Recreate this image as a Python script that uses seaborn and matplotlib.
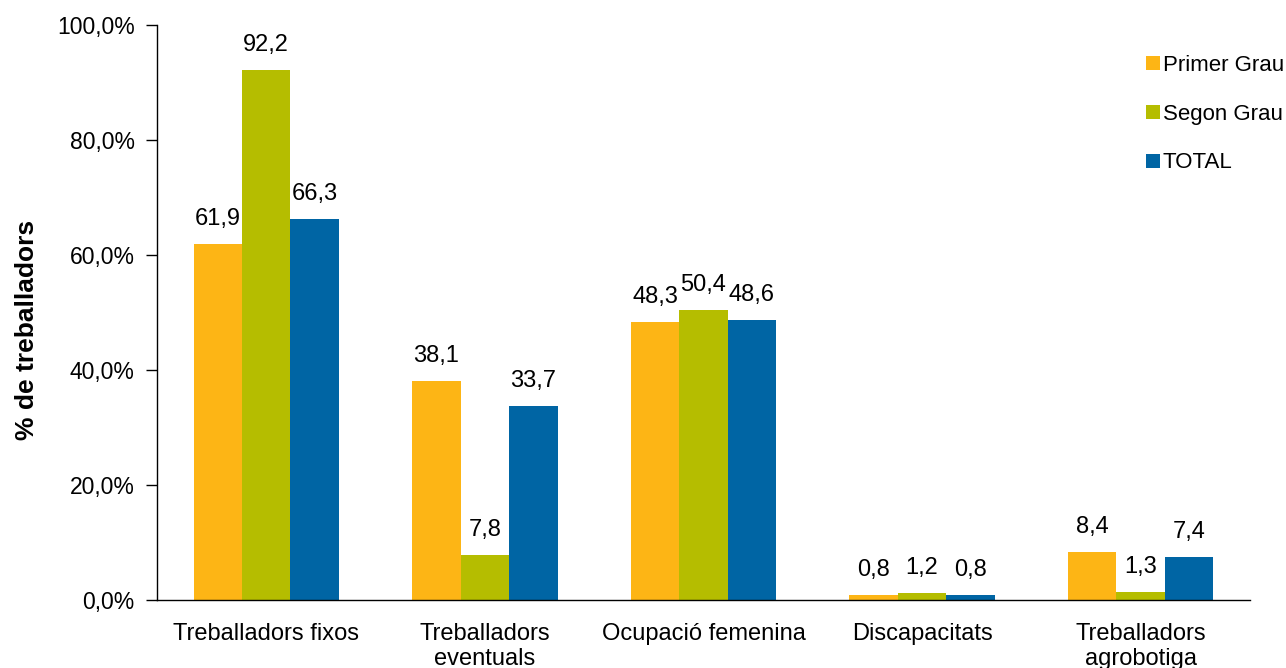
import pandas as pd
import seaborn as sns
import matplotlib.pyplot as plt
from matplotlib.ticker import FuncFormatter, FixedLocator

categories = ['Treballadors fixos', 'Treballadors\neventuals', 'Ocupació femenina',
              'Discapacitats', 'Treballadors\nagrobotiga']
series = ['Primer Grau', 'Segon Grau', 'TOTAL']
primer_grau = [61.9, 38.1, 48.3, 0.8, 8.4]
segon_grau = [92.2, 7.8, 50.4, 1.2, 1.3]
total = [66.3, 33.7, 48.6, 0.8, 7.4]
colors = ['#FDB515', '#B5BD00', '#0065A4']

df = pd.DataFrame({
    'cat': categories * 3,
    'serie': [s for s in series for _ in categories],
    'val': primer_grau + segon_grau + total,
})

sns.set_style('white')
plt.rcParams['font.family'] = ['Liberation Sans', 'DejaVu Sans']
plt.rcParams.update({'text.color': 'black', 'axes.labelcolor': 'black',
                     'xtick.color': 'black', 'ytick.color': 'black'})

fig = plt.figure(figsize=(12.86, 6.68), dpi=100)
ax = fig.add_axes([0.122, 0.102, 0.850, 0.861])

sns.barplot(data=df, x='cat', y='val', hue='serie', palette=colors,
            width=0.665, saturation=1, linewidth=0, ax=ax, legend=True)

for cont in ax.containers:
    ax.bar_label(cont, labels=[f'{v:.1f}'.replace('.', ',') for v in cont.datavalues],
                 padding=10, fontsize=17)

ax.set_ylim(0, 100)
ax.set_xlim(-0.5, 4.5)
ax.yaxis.set_major_locator(FixedLocator([0, 20, 40, 60, 80, 100]))
ax.yaxis.set_major_formatter(FuncFormatter(lambda v, p: f'{v:.1f}%'.replace('.', ',')))
ax.set_ylabel('% de treballadors', fontsize=19, fontweight='bold')
ax.yaxis.set_label_coords(-0.108, 0.47)
ax.set_xlabel('')

ax.set_xticks(range(5))
ax.set_xticklabels(categories, fontsize=17, family=['Liberation Sans Narrow', 'Liberation Sans'],
                   linespacing=1.15)
ax.tick_params(axis='x', which='major', length=0, pad=17)
ax.set_xticks([i - 0.5 for i in range(6)], minor=True)
ax.tick_params(axis='x', which='minor', length=7, direction='out', width=1)
ax.tick_params(axis='y', length=8, direction='out', width=1, labelsize=16.5, left=True, pad=8)

for side in ['top', 'right']:
    ax.spines[side].set_visible(False)
for side in ['left', 'bottom']:
    ax.spines[side].set_color('black')
    ax.spines[side].set_linewidth(1)

leg = ax.legend(loc='upper left', bbox_to_anchor=(0.897, 0.963), frameon=False, fontsize=16,
                handlelength=0.6, handleheight=0.6, handletextpad=0.15, labelspacing=1.25,
                borderaxespad=0)

fig.savefig('out.png', dpi=100)
